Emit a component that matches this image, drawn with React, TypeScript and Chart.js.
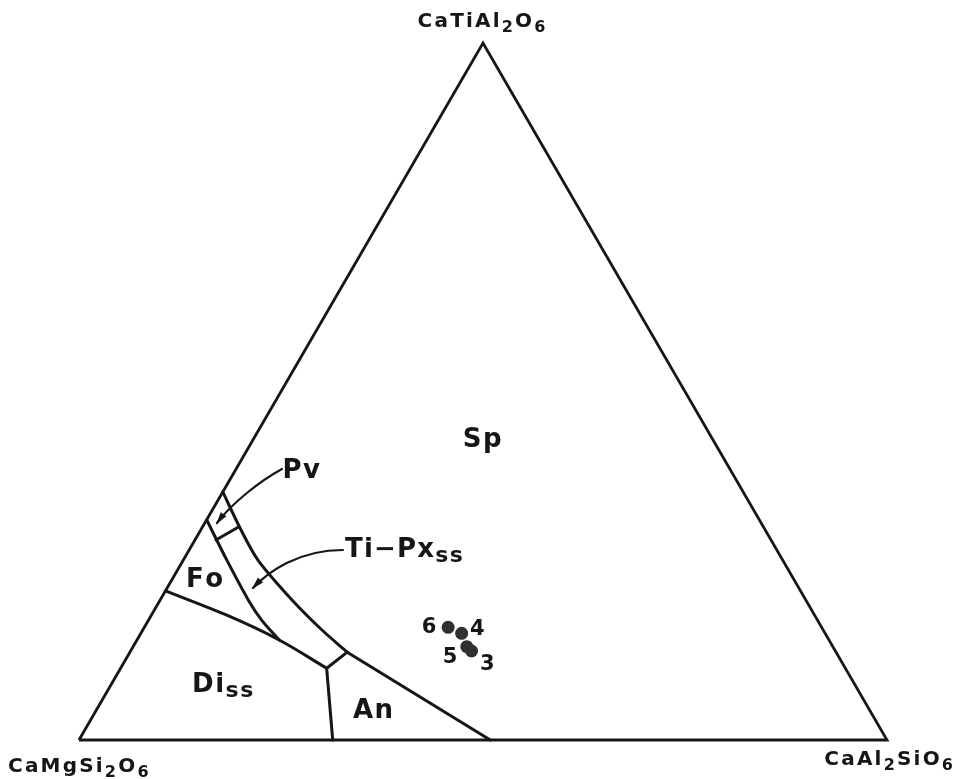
import { useEffect, useRef } from "react";
import { Chart, registerables } from "chart.js";

Chart.register(...registerables);

// Every point is a composition [CaAl2SiO6 %, CaTiAl2O6 %]; CaMgSi2O6 makes up the rest.
type Comp = [number, number];

const triangleEdges: Comp[] = [[0, 0], [100, 0], [0, 100], [0, 0]];

// Sp against Pv and Ti-Px ss
const spinelPxBoundary: Comp[] = [
  [0, 35.6], [4.72, 30.42], [9.24, 25.82], [16.32, 20.09], [22.18, 15.78], [26.9, 12.6],
];
// Sp against An
const spinelAnBoundary: Comp[] = [[26.9, 12.6], [50.9, 0]];
// Fo (and Pv) against Ti-Px ss
const forsteriteBoundary: Comp[] = [[0, 31.6], [5.4, 25.8], [10.9, 20.1], [14.0, 17.2], [17.6, 14.35]];
// Di ss against Fo and Ti-Px ss
const diopsideBoundary: Comp[] = [[0, 21.4], [9.35, 17.9], [17.6, 14.35], [25.5, 10.3]];
// Di ss against An
const anorthiteBoundary: Comp[] = [[25.5, 10.3], [31.4, 0]];
// Ti-Px ss against An
const pyroxeneAnBoundary: Comp[] = [[25.5, 10.3], [26.9, 12.6]];
// Pv against Ti-Px ss
const perovskiteBoundary: Comp[] = [[2.6, 28.7], [4.5, 30.6]];

// Bulk compositions of the runs
const sampleNames = ["3", "4", "5", "6"];
const sampleComps: Comp[] = [[42.2, 12.77], [39.7, 15.31], [41.3, 13.39], [37.6, 16.17]];

// Field names
const fieldNames = ["Sp", "Pv", "Fo", "An"];
const fieldComps: Comp[] = [[28.9, 42.0], [8.7, 37.6], [4.55, 21.95], [34.8, 3.16]];

// Leader arrows (cubic: start, two handles, tip)
const pvLeader: Comp[] = [[5.68, 38.88], [3.82, 37.16], [1.94, 34.0], [1.51, 31.13]];
const pxLeader: Comp[] = [[19.04, 27.26], [13.47, 27.26], [11.34, 24.1], [10.62, 21.81]];
const pxLabelAt: Comp = [19.8, 26.26];
const diLabelAt: Comp = [10.55, 6.89];

const INK = "#161616";
const FONT = '"DejaVu Sans", sans-serif';

const toXY = ([b, c]: Comp) => ({ x: b + c / 2, y: c });

type Run = { t: string; sub?: boolean };

function drawRuns(
  ctx: CanvasRenderingContext2D,
  runs: Run[],
  x: number,
  y: number,
  align: "left" | "center" | "right",
  size: number,
  subSize: number,
  subDrop: number,
  spacing: number
) {
  const pieces: { ch: string; sub: boolean; w: number }[] = [];
  for (const r of runs) {
    ctx.font = `bold ${r.sub ? subSize : size}px ${FONT}`;
    for (const ch of r.t) pieces.push({ ch, sub: !!r.sub, w: ctx.measureText(ch).width });
  }
  const total = pieces.reduce((s, p) => s + p.w, 0) + spacing * (pieces.length - 1);
  let cx = align === "left" ? x : align === "center" ? x - total / 2 : x - total;
  ctx.textAlign = "left";
  ctx.textBaseline = "alphabetic";
  for (const p of pieces) {
    ctx.font = `bold ${p.sub ? subSize : size}px ${FONT}`;
    ctx.fillText(p.ch, cx, p.sub ? y + subDrop : y);
    cx += p.w + spacing;
  }
}

const notesPlugin = {
  id: "ternaryNotes",
  afterDatasetsDraw(chart: Chart) {
    const { ctx } = chart;
    const xs = chart.scales.x;
    const ys = chart.scales.y;
    const px = (c: Comp) => {
      const p = toXY(c);
      return [xs.getPixelForValue(p.x), ys.getPixelForValue(p.y)] as [number, number];
    };
    ctx.save();
    ctx.fillStyle = INK;
    ctx.strokeStyle = INK;

    // leader arrows
    for (const leader of [pvLeader, pxLeader]) {
      const [p0, p1, p2, p3] = leader.map(px);
      ctx.lineWidth = 2.2;
      ctx.lineCap = "round";
      ctx.beginPath();
      ctx.moveTo(p0[0], p0[1]);
      ctx.bezierCurveTo(p1[0], p1[1], p2[0], p2[1], p3[0], p3[1]);
      ctx.stroke();
      const ang = Math.atan2(p3[1] - p2[1], p3[0] - p2[0]);
      const len = 11;
      const half = 3.5;
      const bx = p3[0] - len * Math.cos(ang);
      const by = p3[1] - len * Math.sin(ang);
      ctx.beginPath();
      ctx.moveTo(p3[0] + 1.5 * Math.cos(ang), p3[1] + 1.5 * Math.sin(ang));
      ctx.lineTo(bx - half * Math.sin(ang), by + half * Math.cos(ang));
      ctx.lineTo(bx + half * Math.sin(ang), by - half * Math.cos(ang));
      ctx.closePath();
      ctx.fill();
    }

    // end-member labels
    const top = px([0, 100]);
    const left = px([0, 0]);
    const right = px([100, 0]);
    drawRuns(ctx, [{ t: "CaTiAl" }, { t: "2", sub: true }, { t: "O" }, { t: "6", sub: true }],
      top[0] - 1.5, top[1] - 16, "center", 20, 16, 5, 2.2);
    drawRuns(ctx, [{ t: "CaMgSi" }, { t: "2", sub: true }, { t: "O" }, { t: "6", sub: true }],
      left[0] - 71, left[1] + 32, "left", 20, 16, 5, 2.2);
    drawRuns(ctx, [{ t: "CaAl" }, { t: "2", sub: true }, { t: "SiO" }, { t: "6", sub: true }],
      right[0] + 66, right[1] + 25, "right", 20, 16, 5, 2.2);

    // phase fields
    fieldNames.forEach((name, i) => {
      const [x, y] = px(fieldComps[i]);
      drawRuns(ctx, [{ t: name }], x, y, "center", 26, 22, 5, 1.5);
    });
    const [tx, ty] = px(pxLabelAt);
    drawRuns(ctx, [{ t: "Ti−Px" }, { t: "ss", sub: true }], tx, ty, "left", 26, 22, 5, 1.2);
    const [dx, dy] = px(diLabelAt);
    drawRuns(ctx, [{ t: "Di" }, { t: "ss", sub: true }], dx, dy, "left", 26, 22, 5, 1.5);

    // run numbers beside their points
    const offsets: Record<string, [number, number]> = {
      "3": [15.8, 19], "4": [15.8, 1.7], "5": [-16.7, 16.3], "6": [-19, 5.7],
    };
    sampleNames.forEach((name, i) => {
      const [x, y] = px(sampleComps[i]);
      const [ox, oy] = offsets[name];
      drawRuns(ctx, [{ t: name }], x + ox, y + oy, "center", 21, 16, 0, 0);
    });
    ctx.restore();
  },
};

function boundary(label: string, pts: Comp[], tension: number) {
  return {
    label,
    data: pts.map(toXY),
    showLine: true,
    borderColor: INK,
    borderWidth: 3,
    pointRadius: 0,
    pointHoverRadius: 0,
    fill: false,
    clip: false as const,
    tension,
    borderCapStyle: "round" as const,
    borderJoinStyle: "round" as const,
  };
}

export default function App() {
  const ref = useRef<HTMLCanvasElement>(null);

  useEffect(() => {
    const canvas = ref.current;
    if (!canvas) return;
    const chart = new Chart(canvas, {
      type: "scatter",
      data: {
        datasets: [
          { ...boundary("edges", triangleEdges, 0), borderWidth: 2.8, borderJoinStyle: "miter" as const, borderCapStyle: "butt" as const },
          boundary("Sp-Px", spinelPxBoundary, 0.3),
          boundary("Sp-An", spinelAnBoundary, 0),
          boundary("Fo", forsteriteBoundary, 0.3),
          boundary("Di", diopsideBoundary, 0.35),
          boundary("Di-An", anorthiteBoundary, 0),
          boundary("Px-An", pyroxeneAnBoundary, 0),
          boundary("Pv", perovskiteBoundary, 0),
          {
            label: "runs",
            data: sampleComps.map(toXY),
            showLine: false,
            pointRadius: 6.5,
            pointHoverRadius: 6.5,
            backgroundColor: "#303030",
            borderWidth: 0,
            clip: false as const,
          },
        ],
      },
      options: {
        responsive: false,
        maintainAspectRatio: false,
        devicePixelRatio: 1,
        animation: false,
        events: [],
        layout: { padding: { left: 79, right: 67, top: 43, bottom: 39 } },
        scales: {
          x: { type: "linear", min: 0, max: 100, display: false },
          y: { type: "linear", min: 0, max: 100, display: false },
        },
        plugins: { legend: { display: false }, tooltip: { enabled: false } },
      },
      plugins: [notesPlugin],
    });
    return () => chart.destroy();
  }, []);

  return (
    <div style={{ position: "absolute", left: 0, top: 0, width: 954, height: 779, background: "#fff" }}>
      <canvas ref={ref} width={954} height={779} style={{ display: "block", width: 954, height: 779 }} />
    </div>
  );
}
